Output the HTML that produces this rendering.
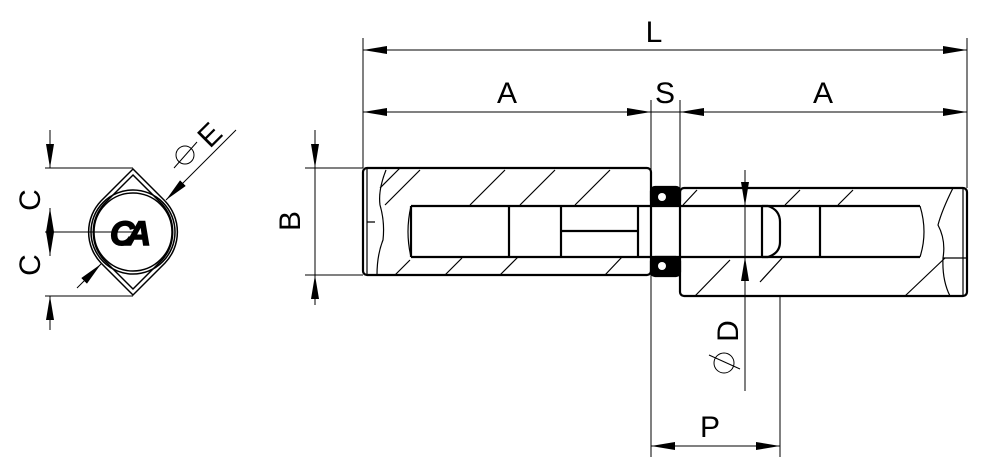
<!DOCTYPE html>
<html><head><style>html,body{margin:0;padding:0;background:#fff;}svg{display:block}</style></head>
<body>
<svg width="984" height="473" viewBox="0 0 984 473" xmlns="http://www.w3.org/2000/svg" font-family="Liberation Sans, sans-serif">
<defs>
<marker id="ar" viewBox="0 0 24 8" refX="24" refY="4" markerWidth="24" markerHeight="8" markerUnits="userSpaceOnUse" orient="auto-start-reverse"><path d="M0,0 L24,4 L0,8 Z" fill="#000"/></marker>
</defs>
<g stroke="#000" fill="none" stroke-width="1">
<line x1="363" y1="38" x2="363" y2="168"/>
<line x1="967" y1="38" x2="967" y2="188"/>
<line x1="651" y1="100" x2="651" y2="457"/>
<line x1="680" y1="100" x2="680" y2="188"/>
<line x1="780" y1="296" x2="780" y2="457"/>
<line x1="305" y1="168" x2="363" y2="168"/>
<line x1="305" y1="275" x2="363" y2="275"/>
<line x1="363" y1="50" x2="967" y2="50" marker-start="url(#ar)" marker-end="url(#ar)"/>
<line x1="363" y1="112" x2="651" y2="112" marker-start="url(#ar)" marker-end="url(#ar)"/>
<line x1="651" y1="112" x2="680" y2="112"/>
<line x1="680" y1="112" x2="967" y2="112" marker-start="url(#ar)" marker-end="url(#ar)"/>
<line x1="651" y1="446" x2="780" y2="446" marker-start="url(#ar)" marker-end="url(#ar)"/>
<line x1="315" y1="130" x2="315" y2="168" marker-end="url(#ar)"/>
<line x1="315" y1="168" x2="315" y2="275"/>
<line x1="315" y1="305" x2="315" y2="275" marker-end="url(#ar)"/>
<line x1="745" y1="170" x2="745" y2="206" marker-end="url(#ar)"/>
<line x1="745" y1="206" x2="745" y2="257"/>
<line x1="745" y1="391" x2="745" y2="257" marker-end="url(#ar)"/>
<g stroke-width="2.2">
<rect x="363" y="168" width="288" height="107" rx="4"/>
<rect x="680" y="188" width="287" height="108" rx="4"/>
<line x1="411" y1="206" x2="638" y2="206"/>
<line x1="411" y1="257" x2="638" y2="257"/>
<line x1="411" y1="206" x2="411" y2="257"/>
<line x1="509" y1="206" x2="509" y2="257"/>
<line x1="561" y1="206" x2="561" y2="257"/>
<line x1="638" y1="206" x2="638" y2="257"/>
<line x1="561" y1="231" x2="638" y2="231"/>
<line x1="638" y1="206" x2="920" y2="206"/>
<line x1="638" y1="257" x2="920" y2="257"/>
<line x1="820" y1="206" x2="820" y2="257"/>
<line x1="762" y1="206" x2="762" y2="257"/>
<path d="M762,206 L768,206 Q780,210 780,222 L780,242 Q780,253 768,257 L762,257"/>
<rect x="651" y="187" width="29" height="18" rx="4" fill="#000"/>
<rect x="651" y="257" width="29" height="19" rx="4" fill="#000"/>
</g>
<circle cx="662" cy="197" r="4" fill="#fff" stroke="none"/>
<circle cx="662" cy="266" r="4" fill="#fff" stroke="none"/>
<g stroke-width="1.2">
<path d="M367,168 L367,275 M367,222 L375,222"/>
<path d="M386,170 Q378,190 380,205 Q385,222 383,240 Q377,255 377,275"/>
<path d="M411,206 Q405,232 411,257"/>
<path d="M920,206 Q928,232 920,257"/>
<path d="M953,188 Q942,210 938,225 Q946,240 943,258 Q942,280 950,296"/>
<path d="M963,188 L963,296 M943,258 L967,258"/>
<path d="M380,188 L400,168 M385,205 L420,170 M470,205 L505,170 M520,205 L555,170 M575,205 L610,170 M395,275 L410,260 M445,275 L462,258 M500,275 L518,257 M605,275 L622,257 M683,205 L697,190 M785,205 L800,190 M838,205 L853,190 M695,296 L730,260 M760,282 L782,258 M905,296 L945,258"/>
</g>
<line x1="45" y1="168" x2="133" y2="168"/>
<line x1="45" y1="232" x2="133" y2="232"/>
<line x1="45" y1="296" x2="133" y2="296"/>
<line x1="50" y1="130" x2="50" y2="168" marker-end="url(#ar)"/>
<line x1="50" y1="208" x2="50" y2="232" marker-start="url(#ar)"/>
<line x1="50" y1="232" x2="50" y2="256" marker-end="url(#ar)"/>
<line x1="50" y1="330" x2="50" y2="296" marker-end="url(#ar)"/>
<line x1="236" y1="130" x2="166" y2="200" marker-end="url(#ar)"/>
<line x1="77" y1="288" x2="101" y2="264" marker-end="url(#ar)"/>
<g stroke-width="1.5">
<path d="M133,169 L165,201 A45 45 0 0 1 165,263 L133,295 L101,263 A45 45 0 0 1 101,201 Z"/>
<path d="M133,175 L162,204 A42 42 0 0 1 162,260 L133,289 L104,260 A42 42 0 0 1 104,204 Z"/>
<circle cx="133" cy="232" r="42"/>
<circle cx="133" cy="232" r="39"/>
</g>
<circle cx="185" cy="155" r="9"/>
<line x1="174" y1="168" x2="197" y2="142"/>
<circle cx="724" cy="363" r="10"/>
<line x1="709" y1="355" x2="740" y2="369"/>
</g>
<text x="110" y="245" font-size="34" font-weight="bold" font-style="italic" letter-spacing="-8" stroke="#000" stroke-width="1.5">CA</text>
<g font-size="30" fill="#000">
<text x="654" y="42" text-anchor="middle">L</text>
<text x="507" y="103" text-anchor="middle">A</text>
<text x="665" y="103" text-anchor="middle">S</text>
<text x="823" y="103" text-anchor="middle">A</text>
<text x="710" y="437" text-anchor="middle">P</text>
<text transform="translate(300,221) rotate(-90)" text-anchor="middle">B</text>
<text transform="translate(738,331) rotate(-90)" text-anchor="middle">D</text>
<text transform="translate(40,200) rotate(-90)" text-anchor="middle">C</text>
<text transform="translate(40,265) rotate(-90)" text-anchor="middle">C</text>
<text transform="translate(217,142) rotate(-45)" text-anchor="middle">E</text>
</g>
</svg>
</body></html>
